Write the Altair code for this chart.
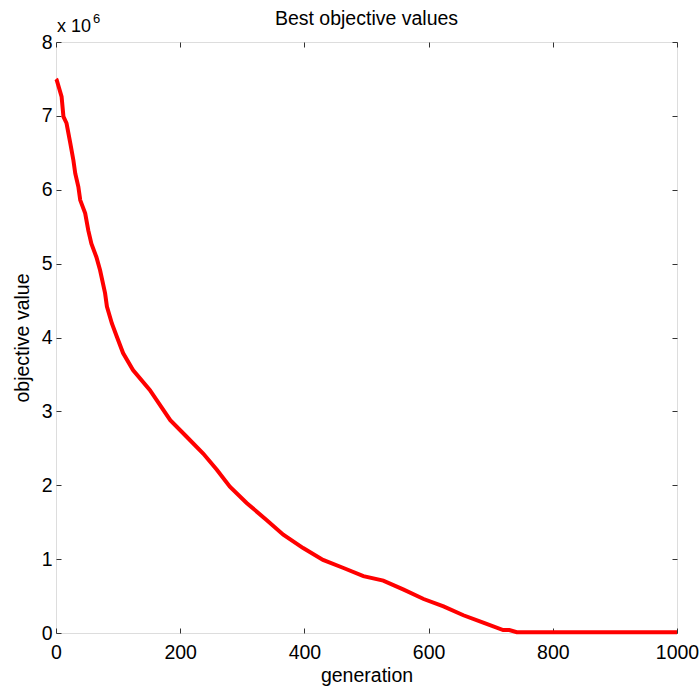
import altair as alt
import pandas as pd

generation = [0, 1, 9, 12, 17, 23, 28, 31, 36, 39, 47, 52, 57, 65, 71, 79, 82, 90, 98, 108, 124,
              151, 184, 210, 237, 259, 280, 307, 339, 366, 398, 430, 463, 495, 527, 559, 592,
              624, 656, 688, 720, 730, 742, 800, 900, 1000]
objective = [7.50, 7.49, 7.26, 6.99, 6.90, 6.63, 6.40, 6.22, 6.04, 5.86, 5.68, 5.45, 5.27, 5.09,
             4.91, 4.60, 4.42, 4.19, 4.01, 3.79, 3.56, 3.29, 2.88, 2.66, 2.43, 2.21, 1.98, 1.76,
             1.53, 1.33, 1.15, 0.99, 0.88, 0.77, 0.71, 0.59, 0.46, 0.36, 0.24, 0.14, 0.04, 0.04,
             0.01, 0.01, 0.01, 0.01]
x_ticks = [0, 200, 400, 600, 800, 1000]
y_ticks = [0, 1, 2, 3, 4, 5, 6, 7, 8]

df = pd.DataFrame({"generation": generation, "objective": objective})

FONT = "Liberation Sans"
FS = 19.5
xscale = alt.Scale(domain=[0, 1000], nice=False, zero=False)
yscale = alt.Scale(domain=[0, 8], nice=False)

common = dict(domain=False, tickSize=5, offset=-5, tickColor="#333333", grid=False,
              labelFont=FONT, labelFontSize=FS, labelColor="black", format="d",
              titleFont=FONT, titleFontSize=FS, titleColor="black", titleFontWeight="normal")

line = alt.Chart(df).mark_line(color="#ff0000", strokeWidth=4).encode(
    x=alt.X("generation:Q", scale=xscale,
            axis=alt.Axis(values=x_ticks, title="generation",
                          labelPadding=10, titlePadding=5, labelFlush=False, **common)),
    y=alt.Y("objective:Q", scale=yscale,
            axis=alt.Axis(values=y_ticks, title="objective value",
                          labelPadding=4, titlePadding=9, labelFlush=False, **common)),
)

mirror = alt.Chart(df).mark_line(strokeOpacity=0).encode(
    x=alt.X("generation:Q", scale=xscale,
            axis=alt.Axis(orient="top", values=x_ticks, labels=False,
                          title=None, domain=False, tickSize=5, offset=-5, tickColor="#333333")),
    y=alt.Y("objective:Q", scale=yscale,
            axis=alt.Axis(orient="right", values=y_ticks, labels=False,
                          title=None, domain=False, tickSize=5, offset=-5, tickColor="#333333")),
)

title = alt.Chart(pd.DataFrame({"t": ["Best objective values"]})).mark_text(
    font=FONT, fontSize=19.5, align="center", baseline="alphabetic", color="black"
).encode(x=alt.value(310.5), y=alt.value(-17), text="t:N")

exp_base = alt.Chart(pd.DataFrame({"t": ["x 10"]})).mark_text(
    font=FONT, fontSize=18, align="left", baseline="alphabetic", color="black"
).encode(x=alt.value(1), y=alt.value(-10), text="t:N")

exp_sup = alt.Chart(pd.DataFrame({"t": ["6"]})).mark_text(
    font=FONT, fontSize=13, align="left", baseline="alphabetic", color="black"
).encode(x=alt.value(37), y=alt.value(-19), text="t:N")

chart = alt.layer(line, mirror, title, exp_base, exp_sup).resolve_axis(
    x="independent", y="independent"
).properties(
    width=621, height=591,
    autosize=alt.AutoSizeParams(type="none"),
    padding={"left": 56, "top": 42, "right": 22, "bottom": 53},
).configure_view(stroke="black", strokeWidth=1.2).configure(background="white")

chart.save("out.html", embed_options={"renderer": "svg", "actions": False})
